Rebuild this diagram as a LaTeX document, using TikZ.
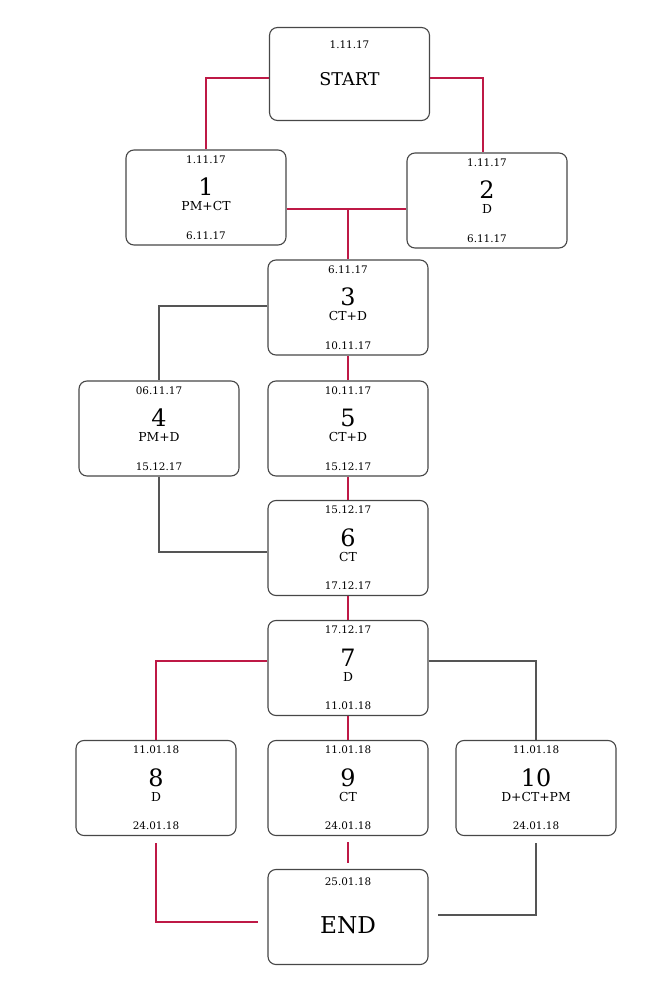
\documentclass[tikz,border=0pt]{standalone}
\usepackage{fontspec}
\setmainfont{DejaVu Serif}
\usetikzlibrary{calc,positioning}

\definecolor{pathred}{RGB}{190,25,70}
\definecolor{pathgray}{RGB}{85,85,85}

\newcommand{\etapa}[7]{%
  \node[taskbox] (#1) at (#2,#3) {};
  \node[datelbl] (#1from) at ($(#1.north)+(0,10)$) {#6};
  \node[tasknum] (#1num) at ($(#1.center)+(0,-10.5)$) {#4};
  \node[tasktype] (#1type) at ($(#1.center)+(0,8.5)$) {#5};
  \node[datelbl] (#1to) at ($(#1.south)+(0,-10)$) {#7};
}

\begin{document}
\begin{tikzpicture}[
  x=0.025cm,y=-0.025cm,
  taskbox/.style={draw=black!72,line width=0.8pt,rounded corners=0.2cm,fill=white,minimum width=4cm,minimum height=2.375cm},
  datelbl/.style={inner sep=0pt,font=\fontsize{7.4}{8}\selectfont},
  tasknum/.style={inner sep=0pt,font=\fontsize{17}{18}\selectfont},
  tasktype/.style={inner sep=0pt,font=\fontsize{8.8}{10}\selectfont},
  bigword/.style={inner sep=0pt,font=\fontsize{#1}{#1}\selectfont},
  critical/.style={draw=pathred,line width=0.75pt},
  slack/.style={draw=pathgray,line width=0.75pt}
  ]
  \useasboundingbox (0,0) rectangle (667,1000);

  \node[taskbox,minimum height=2.325cm] (start) at (349.5,74) {};
  \node[datelbl] (startdate) at ($(start.north)+(0,18)$) {1.11.17};
  \node[bigword=12.5] (startword) at ($(start.center)+(0,5)$) {START};

  \etapa{b1}{206}{197.5}{1}{PM+CT}{1.11.17}{6.11.17}
  \etapa{b2}{487}{200.5}{2}{D}{1.11.17}{6.11.17}
  \etapa{b3}{348}{307.5}{3}{CT+D}{6.11.17}{10.11.17}
  \etapa{b4}{159}{428.5}{4}{PM+D}{06.11.17}{15.12.17}
  \etapa{b5}{348}{428.5}{5}{CT+D}{10.11.17}{15.12.17}
  \etapa{b6}{348}{548}{6}{CT}{15.12.17}{17.12.17}
  \etapa{b7}{348}{668}{7}{D}{17.12.17}{11.01.18}
  \etapa{b8}{156}{788}{8}{D}{11.01.18}{24.01.18}
  \etapa{b9}{348}{788}{9}{CT}{11.01.18}{24.01.18}
  \etapa{b10}{536}{788}{10}{D+CT+PM}{11.01.18}{24.01.18}

  \node[taskbox] (end) at (348,917) {};
  \node[datelbl] (enddate) at ($(end.north)+(0,13)$) {25.01.18};
  \node[bigword=16.5] (endword) at ($(end.center)+(0,8)$) {END};

  \coordinate (merge) at (348,209);

  \draw[critical] ($(start.west)+(0,4)$) -| (b1.north);
  \draw[critical] ($(start.east)+(0,4)$) -| ($(b2.north)+(-4,0)$);
  \draw[critical] (b1.east |- merge) -- (b2.west |- merge);
  \draw[critical] (merge) -- (b3.north);
  \draw[slack] ($(b3.west)+(0,-1.5)$) -| (b4.north);
  \draw[critical] (b3) -- (b5);
  \draw[critical] (b5) -- (b6);
  \draw[slack] (b4.south) |- ($(b6.west)+(0,4)$);
  \draw[critical] (b6) -- (b7);
  \draw[critical] ($(b7.west)+(0,-7)$) -| (b8.north);
  \draw[slack] ($(b7.east)+(0,-7)$) -| (b10.north);
  \draw[critical] (b7) -- (b9);
  \draw[critical,shorten <=4.3pt,shorten >=4.3pt] (b9) -- (end);
  \draw[critical,shorten <=5pt,shorten >=7pt] (b8.south) |- ($(end.west)+(0,5)$);
  \draw[slack,shorten <=5pt,shorten >=7pt] (b10.south) |- ($(end.east)+(0,-2)$);

\end{tikzpicture}
\end{document}
